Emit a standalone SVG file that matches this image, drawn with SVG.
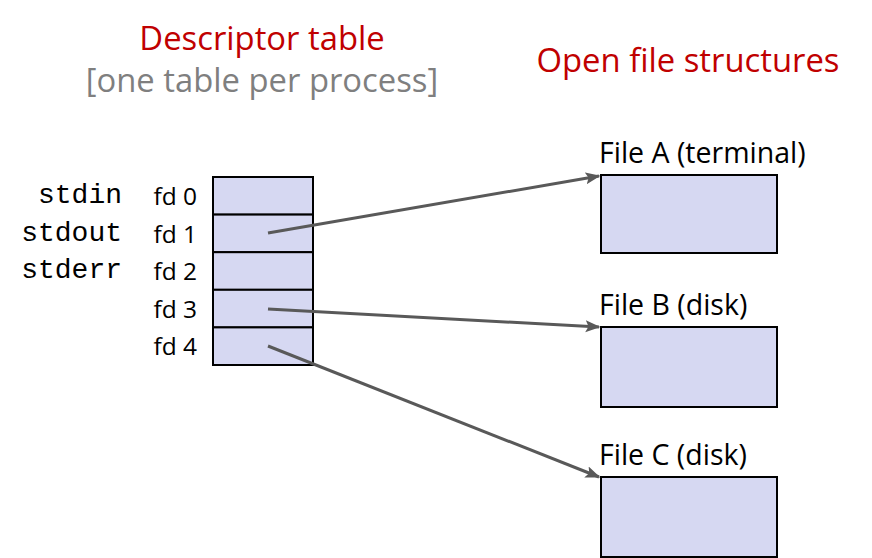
<svg xmlns="http://www.w3.org/2000/svg" width="872" height="558" viewBox="0 0 872 558">
<style>
.title{font-family:"Open Sans","Noto Sans",sans-serif;font-size:32.8px;fill:#c00000;text-anchor:middle}
.sub{font-family:"Open Sans","Noto Sans",sans-serif;font-size:32.8px;fill:#7f7f7f;text-anchor:middle}
.lbl{font-family:"Open Sans","Noto Sans",sans-serif;font-size:28.5px;fill:#000}
.fd{font-family:"Open Sans","Noto Sans",sans-serif;font-size:24.5px;fill:#000;text-anchor:end}
.mono{font-family:"Liberation Mono",monospace;font-size:28px;fill:#000;text-anchor:end}
.box{fill:#d6d8f2;stroke:#000;stroke-width:2}
.conn{stroke:#595959;stroke-width:3;fill:none;marker-end:url(#ah)}
</style>
<defs>
<marker id="ah" viewBox="0 0 10 10" refX="9" refY="5" markerWidth="5" markerHeight="5" orient="auto" markerUnits="strokeWidth">
<path d="M0,1 L10,5 L0,9 L2,5 z" fill="#595959"/>
</marker>
</defs>
<rect width="872" height="558" fill="#fff"/>
<text class="title" x="262" y="50">Descriptor table</text>
<text class="sub" x="262" y="92">[one table per process]</text>
<text class="title" x="688" y="72">Open file structures</text>
<g id="descriptor-table">
<rect class="box" x="213" y="177" width="100" height="37.6"/>
<rect class="box" x="213" y="214.6" width="100" height="37.6"/>
<rect class="box" x="213" y="252.2" width="100" height="37.6"/>
<rect class="box" x="213" y="289.8" width="100" height="37.6"/>
<rect class="box" x="213" y="327.4" width="100" height="37.6"/>
<text class="fd" x="197" y="205">fd 0</text>
<text class="fd" x="197" y="243">fd 1</text>
<text class="fd" x="197" y="280">fd 2</text>
<text class="fd" x="197" y="318">fd 3</text>
<text class="fd" x="197" y="355">fd 4</text>
<text class="mono" x="122" y="203">stdin</text>
<text class="mono" x="122" y="241">stdout</text>
<text class="mono" x="122" y="278">stderr</text>
</g>
<g id="file-a">
<text class="lbl" x="599" y="163">File A (terminal)</text>
<rect class="box" x="601" y="175" width="176" height="78"/>
</g>
<g id="file-b">
<text class="lbl" x="599" y="315">File B (disk)</text>
<rect class="box" x="601" y="327" width="176" height="80"/>
</g>
<g id="file-c">
<text class="lbl" x="599" y="465">File C (disk)</text>
<rect class="box" x="601" y="477" width="176" height="80"/>
</g>
<g id="connectors">
<line class="conn" x1="268" y1="233" x2="599" y2="176"/>
<line class="conn" x1="268" y1="309" x2="599" y2="327"/>
<line class="conn" x1="268" y1="346" x2="599" y2="477"/>
</g>
</svg>
